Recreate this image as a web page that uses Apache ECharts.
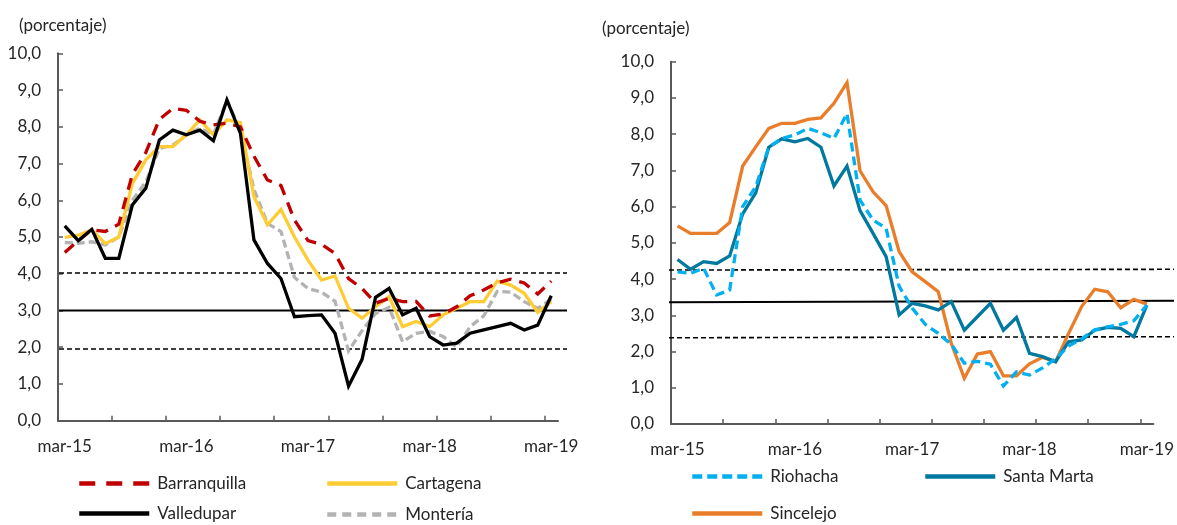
<!DOCTYPE html>
<html><head><meta charset="utf-8">
<script src="https://cdn.jsdelivr.net/npm/echarts@6/dist/echarts.min.js"></script>
<style>html,body{margin:0;padding:0;background:#fff}#c{width:1177px;height:525px}</style>
</head><body><div id="c"></div>
<script>
// ---- data ----
const xTickLabels = ['mar-15', 'mar-16', 'mar-17', 'mar-18', 'mar-19'];
const unitLabel = '(porcentaje)';

const barranquilla = [4.58, 4.90, 5.20, 5.15, 5.35, 6.70, 7.30, 8.20, 8.50, 8.45, 8.15, 8.05, 8.10, 8.00, 7.20, 6.55, 6.40, 5.46, 4.90, 4.80, 4.55, 3.87, 3.60, 3.20, 3.33, 3.24, 3.25, 2.85, 2.90, 3.10, 3.40, 3.56, 3.75, 3.85, 3.75, 3.45, 3.80];
const cartagena    = [4.99, 5.05, 5.20, 4.82, 5.00, 6.45, 7.10, 7.46, 7.46, 7.78, 8.19, 7.78, 8.19, 8.11, 6.10, 5.33, 5.75, 5.00, 4.37, 3.83, 3.94, 3.06, 2.79, 3.10, 3.38, 2.56, 2.70, 2.56, 2.88, 3.06, 3.24, 3.24, 3.80, 3.69, 3.47, 2.95, 3.24];
const valledupar   = [5.30, 4.90, 5.21, 4.42, 4.42, 5.87, 6.33, 7.64, 7.91, 7.78, 7.91, 7.62, 8.73, 7.82, 4.92, 4.28, 3.87, 2.83, 2.86, 2.88, 2.38, 0.94, 1.67, 3.36, 3.60, 2.88, 3.06, 2.29, 2.06, 2.11, 2.38, 2.47, 2.56, 2.65, 2.47, 2.60, 3.40];
const monteria     = [4.85, 4.83, 4.87, 4.78, 5.00, 6.00, 6.50, 7.41, 7.50, 7.78, 7.96, 7.78, 8.73, 7.91, 6.30, 5.37, 5.15, 3.90, 3.60, 3.50, 3.25, 1.90, 2.45, 2.92, 3.08, 2.15, 2.38, 2.43, 2.29, 2.01, 2.56, 2.85, 3.52, 3.50, 3.24, 3.06, 3.30];

const riohacha     = [4.20, 4.16, 4.30, 3.56, 3.70, 6.00, 6.55, 7.64, 7.88, 7.98, 8.16, 8.04, 7.88, 8.57, 6.18, 5.63, 5.40, 3.80, 3.20, 2.75, 2.50, 2.20, 1.68, 1.73, 1.65, 1.05, 1.44, 1.35, 1.55, 1.80, 2.15, 2.35, 2.60, 2.68, 2.75, 2.85, 3.28];
const santaMarta   = [4.54, 4.27, 4.48, 4.43, 4.64, 5.80, 6.38, 7.64, 7.87, 7.79, 7.88, 7.64, 6.57, 7.12, 5.89, 5.26, 4.62, 3.01, 3.33, 3.26, 3.15, 3.38, 2.59, 2.96, 3.33, 2.59, 2.94, 1.95, 1.86, 1.72, 2.27, 2.32, 2.59, 2.67, 2.64, 2.41, 3.28];
const sincelejo    = [5.47, 5.26, 5.26, 5.26, 5.56, 7.12, 7.65, 8.16, 8.30, 8.30, 8.41, 8.45, 8.85, 9.42, 6.99, 6.41, 6.03, 4.76, 4.20, 3.93, 3.65, 2.23, 1.26, 1.93, 2.00, 1.33, 1.33, 1.66, 1.84, 1.72, 2.50, 3.24, 3.72, 3.65, 3.21, 3.44, 3.31];

// reference lines: lower, middle, upper
const leftBands = [1.95, 3.00, 4.02];
const rightBandsStart = [2.38, 3.36, 4.25];
const rightBandsEnd   = [2.41, 3.40, 4.27];

// ---- chart ----
const FONT = 'Lato, "Open Sans", sans-serif';
const FS = 17;
const TXT = '#262626';
const AX = '#595959';
const nPts = barranquilla.length;
const pts = vals => vals.map((v, i) => [i, v]);
const labelPos = xTickLabels.map((_, k) => k * 9);
const tickPos = [];
for (let t = -0.5; t < nPts - 1; t += 4) tickPos.push(t);

function xAx(grid) {
  return {
    type: 'value', gridIndex: grid, min: -0.5, max: nPts - 0.5,
    axisLine: { show: true, lineStyle: { color: AX, width: 2 } },
    axisTick: { show: true, inside: true, length: 5, customValues: tickPos, lineStyle: { color: AX, width: 1.5 } },
    axisLabel: { customValues: labelPos, formatter: v => xTickLabels[Math.round(v / 9)], margin: 17,
                 fontSize: FS, color: TXT, fontFamily: FONT },
    splitLine: { show: false }
  };
}
function yAx(grid) {
  return {
    type: 'value', gridIndex: grid, min: 0, max: 10, interval: 1,
    axisLine: { show: true, onZero: false, lineStyle: { color: AX, width: 2 } },
    axisTick: { show: true, inside: true, length: 5, lineStyle: { color: AX, width: 1.5 } },
    axisLabel: { formatter: v => v.toFixed(1).replace('.', ','), margin: 17,
                 fontSize: FS, color: TXT, fontFamily: FONT },
    splitLine: { show: false }
  };
}
const hiddenX = g => ({ type: 'value', gridIndex: g, min: 0, max: 1, show: false });
const hiddenY = g => ({ type: 'value', gridIndex: g, min: 0, max: 10, show: false });

function line(name, vals, color, xi, dash, width) {
  return {
    name, type: 'line', xAxisIndex: xi, yAxisIndex: xi, data: pts(vals),
    symbol: 'none', smooth: false, z: 3,
    lineStyle: { color, width: width || 3.3, type: dash || 'solid', cap: 'butt', join: 'miter' },
    itemStyle: { color }
  };
}
function band(a, b, xi, solid) {
  return {
    type: 'line', xAxisIndex: xi, yAxisIndex: xi, data: [[0, a], [1, b]],
    symbol: 'none', silent: true, z: 2,
    lineStyle: { color: '#000', width: solid ? 2 : 1.6, type: solid ? 'solid' : [5, 3] }
  };
}
function leg(name, left, centerY, dash) {
  return {
    data: [name], left, top: centerY - 9, orient: 'horizontal', padding: 0,
    itemWidth: 70, itemHeight: 18, selectedMode: false,
    itemStyle: { opacity: 0, color: 'transparent', borderWidth: 0 },
    lineStyle: { width: 4.5, type: dash || 'solid', cap: 'butt' },
    textStyle: { fontSize: FS, color: TXT, fontFamily: FONT, padding: [0, 0, 0, 3] }
  };
}

const RED = '#C00000', YEL = '#FFCC33', BLK = '#000000', GRY = '#B3B3B3';
const LBL = '#00B0F0', TEAL = '#00789F', ORG = '#E97D2A';

const option = {
  animation: false,
  backgroundColor: '#fff',
  title: [
    { text: unitLabel, left: 14, top: 12, textStyle: { fontSize: FS, fontWeight: 'normal', color: TXT, fontFamily: FONT } },
    { text: unitLabel, left: 597, top: 15, textStyle: { fontSize: FS, fontWeight: 'normal', color: TXT, fontFamily: FONT } }
  ],
  grid: [
    { left: 58, top: 53.3, width: 500, height: 367.4 },
    { left: 59, top: 53.3, width: 508, height: 367.4 },
    { left: 671, top: 61.7, width: 482.5, height: 362.3 },
    { left: 669, top: 61.7, width: 505, height: 362.3 }
  ],
  xAxis: [xAx(0), hiddenX(1), xAx(2), hiddenX(3)],
  yAxis: [yAx(0), hiddenY(1), yAx(2), hiddenY(3)],
  legend: [
    leg('Barranquilla', 77, 484, [16, 11]),
    leg('Cartagena', 325, 484),
    leg('Valledupar', 77, 514),
    leg('Montería', 325, 515, [9, 6]),
    leg('Riohacha', 690, 477, [10, 5]),
    leg('Santa Marta', 923, 477),
    leg('Sincelejo', 690, 514)
  ],
  series: [
    band(leftBands[0], leftBands[0], 1, false),
    band(leftBands[1], leftBands[1], 1, true),
    band(leftBands[2], leftBands[2], 1, false),
    band(rightBandsStart[0], rightBandsEnd[0], 3, false),
    band(rightBandsStart[1], rightBandsEnd[1], 3, true),
    band(rightBandsStart[2], rightBandsEnd[2], 3, false),
    line('Montería', monteria, GRY, 0, [8, 4]),
    line('Cartagena', cartagena, YEL, 0),
    line('Barranquilla', barranquilla, RED, 0, [12, 8]),
    line('Valledupar', valledupar, BLK, 0),
    line('Sincelejo', sincelejo, ORG, 2),
    line('Santa Marta', santaMarta, TEAL, 2),
    line('Riohacha', riohacha, LBL, 2, [9, 5])
  ]
};
const chart = echarts.init(document.getElementById('c'), null, { renderer: 'canvas' });
chart.setOption(option);
</script>
</body></html>
